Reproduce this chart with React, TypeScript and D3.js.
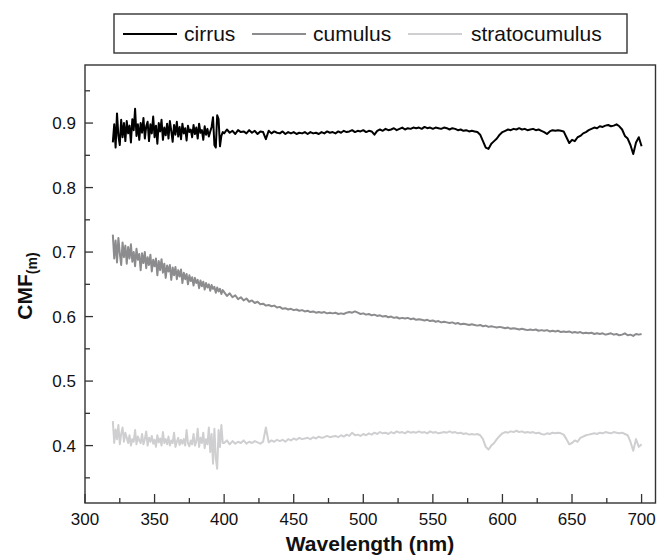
import React from "react";
import * as d3 from "d3";

// 1 nm sampling in the noisy UV part, 2 nm afterwards
const wavelengths: number[] = [...d3.range(320, 400, 1), ...d3.range(400, 701, 2)];

const cirrus: number[] = [
  // 320-399 (1 nm)
  0.870, 0.898, 0.862, 0.915, 0.880, 0.866, 0.905, 0.878, 0.900, 0.872,
  0.903, 0.884, 0.896, 0.870, 0.906, 0.889, 0.922, 0.880, 0.898, 0.874,
  0.900, 0.885, 0.908, 0.876, 0.895, 0.902, 0.872, 0.898, 0.884, 0.910,
  0.878, 0.896, 0.868, 0.900, 0.887, 0.905, 0.874, 0.893, 0.881, 0.899,
  0.876, 0.903, 0.888, 0.871, 0.897, 0.882, 0.902, 0.879, 0.894, 0.875,
  0.899, 0.884, 0.892, 0.873, 0.896, 0.886, 0.890, 0.878, 0.897, 0.883,
  0.893, 0.876, 0.899, 0.885, 0.889, 0.874, 0.895, 0.882, 0.891, 0.879,
  0.887, 0.894, 0.909, 0.866, 0.862, 0.912, 0.906, 0.864, 0.880, 0.886,
  // 400-700 (2 nm)
  0.884, 0.890, 0.885, 0.888, 0.883, 0.889, 0.886, 0.887, 0.884, 0.889,
  0.885, 0.888, 0.883, 0.887, 0.886, 0.875, 0.888, 0.884, 0.887, 0.885,
  0.884, 0.887, 0.883, 0.886, 0.884, 0.886, 0.883, 0.885, 0.884, 0.886,
  0.883, 0.886, 0.884, 0.885, 0.883, 0.886, 0.884, 0.887, 0.885, 0.886,
  0.884, 0.887, 0.885, 0.888, 0.886, 0.887, 0.889, 0.886, 0.888, 0.887,
  0.889, 0.886, 0.888, 0.887, 0.882, 0.888, 0.890, 0.888, 0.891, 0.889,
  0.890, 0.892, 0.889, 0.891, 0.893, 0.890, 0.892, 0.891, 0.893, 0.892,
  0.893, 0.891, 0.894, 0.892, 0.893, 0.891, 0.893, 0.892, 0.891, 0.893,
  0.892, 0.890, 0.892, 0.891, 0.889, 0.890, 0.888, 0.889, 0.887, 0.888,
  0.887, 0.886, 0.882, 0.872, 0.862, 0.860, 0.868, 0.872, 0.876, 0.882,
  0.886, 0.888, 0.890, 0.889, 0.891, 0.890, 0.892, 0.890, 0.891, 0.889,
  0.890, 0.891, 0.889, 0.890, 0.888, 0.886, 0.883, 0.887, 0.889, 0.888,
  0.889, 0.888, 0.887, 0.878, 0.869, 0.874, 0.872, 0.878, 0.880, 0.884,
  0.886, 0.889, 0.891, 0.893, 0.892, 0.895, 0.894, 0.896, 0.897, 0.895,
  0.896, 0.898, 0.895, 0.890, 0.880, 0.876, 0.866, 0.852, 0.870, 0.878,
  0.864,
];

const cumulus: number[] = [
  // 320-399 (1 nm)
  0.727, 0.690, 0.718, 0.684, 0.722, 0.698, 0.680, 0.715, 0.692, 0.710,
  0.682, 0.708, 0.690, 0.712, 0.685, 0.700, 0.678, 0.705, 0.688, 0.697,
  0.672, 0.698, 0.683, 0.700, 0.675, 0.692, 0.680, 0.696, 0.670, 0.688,
  0.678, 0.690, 0.664, 0.686, 0.672, 0.689, 0.668, 0.682, 0.660, 0.679,
  0.670, 0.680, 0.657, 0.676, 0.664, 0.677, 0.658, 0.672, 0.662, 0.673,
  0.652, 0.668, 0.658, 0.666, 0.650, 0.664, 0.655, 0.661, 0.648, 0.660,
  0.652, 0.657, 0.644, 0.656, 0.647, 0.654, 0.642, 0.652, 0.645, 0.650,
  0.640, 0.649, 0.643, 0.646, 0.637, 0.645, 0.639, 0.643, 0.635, 0.641,
  // 400-700 (2 nm)
  0.638, 0.632, 0.636, 0.630, 0.633, 0.627, 0.630, 0.625, 0.628, 0.623,
  0.625, 0.621, 0.623, 0.619, 0.620, 0.617, 0.618, 0.616, 0.617, 0.614,
  0.615, 0.612, 0.613, 0.611, 0.612, 0.610, 0.611, 0.609, 0.610, 0.608,
  0.609, 0.607, 0.608, 0.606, 0.607, 0.606, 0.607, 0.605, 0.606, 0.605,
  0.606, 0.604, 0.605, 0.604, 0.606, 0.607, 0.606, 0.608, 0.606, 0.604,
  0.605, 0.603, 0.604, 0.602, 0.603, 0.601, 0.602, 0.600, 0.601, 0.599,
  0.600, 0.598, 0.599, 0.597, 0.598, 0.597, 0.598, 0.596, 0.597, 0.595,
  0.596, 0.595, 0.594, 0.595, 0.593, 0.594, 0.592, 0.593, 0.591, 0.592,
  0.591, 0.590, 0.591, 0.589, 0.590, 0.588, 0.589, 0.588, 0.587, 0.588,
  0.587, 0.586, 0.587, 0.585, 0.586, 0.584, 0.585, 0.584, 0.583, 0.584,
  0.583, 0.582, 0.583, 0.581, 0.582, 0.581, 0.580, 0.581, 0.580, 0.579,
  0.580, 0.579, 0.580, 0.578, 0.579, 0.578, 0.579, 0.577, 0.578, 0.577,
  0.578, 0.576, 0.577, 0.576, 0.577, 0.575, 0.576, 0.575, 0.576, 0.574,
  0.575, 0.574, 0.575, 0.573, 0.574, 0.573, 0.574, 0.572, 0.573, 0.574,
  0.572, 0.573, 0.571, 0.572, 0.574, 0.571, 0.572, 0.570, 0.573, 0.572,
  0.573,
];

const stratocumulus: number[] = [
  // 320-399 (1 nm)
  0.438, 0.404, 0.425, 0.410, 0.432, 0.402, 0.418, 0.428, 0.406, 0.420,
  0.412, 0.404, 0.416, 0.400, 0.410, 0.406, 0.424, 0.402, 0.414, 0.408,
  0.404, 0.418, 0.402, 0.410, 0.422, 0.400, 0.412, 0.406, 0.415, 0.403,
  0.409, 0.398, 0.416, 0.405, 0.411, 0.400, 0.421, 0.404, 0.410, 0.402,
  0.414, 0.400, 0.408, 0.404, 0.420, 0.398, 0.406, 0.412, 0.401, 0.409,
  0.403, 0.410, 0.400, 0.424, 0.404, 0.399, 0.408, 0.402, 0.418, 0.400,
  0.406, 0.426, 0.398, 0.412, 0.404, 0.420, 0.396, 0.410, 0.402, 0.428,
  0.390, 0.418, 0.372, 0.426, 0.380, 0.364, 0.424, 0.398, 0.432, 0.404,
  // 400-700 (2 nm)
  0.404, 0.408, 0.402, 0.407, 0.403, 0.406, 0.404, 0.408, 0.403, 0.406,
  0.404, 0.407, 0.405, 0.403, 0.406, 0.428, 0.405, 0.408, 0.406, 0.409,
  0.407, 0.409, 0.406, 0.410, 0.408, 0.411, 0.409, 0.412, 0.410, 0.411,
  0.412, 0.410, 0.413, 0.411, 0.414, 0.412, 0.413, 0.415, 0.413, 0.414,
  0.415, 0.413, 0.416, 0.414, 0.417, 0.415, 0.420, 0.416, 0.417, 0.415,
  0.418, 0.416, 0.419, 0.417, 0.420, 0.418, 0.421, 0.419, 0.420, 0.418,
  0.421, 0.419, 0.422, 0.420, 0.421, 0.419, 0.422, 0.420, 0.421, 0.420,
  0.422, 0.420, 0.421, 0.419, 0.422, 0.420, 0.421, 0.419, 0.420, 0.421,
  0.420, 0.422, 0.420, 0.421, 0.419, 0.420, 0.418, 0.419, 0.417, 0.418,
  0.417, 0.418, 0.416, 0.410, 0.398, 0.394, 0.400, 0.404, 0.410, 0.415,
  0.419, 0.421, 0.420, 0.422, 0.421, 0.423, 0.421, 0.422, 0.420, 0.421,
  0.420, 0.421, 0.419, 0.420, 0.418, 0.417, 0.419, 0.418, 0.420, 0.419,
  0.420, 0.419, 0.417, 0.410, 0.402, 0.404, 0.408, 0.406, 0.412, 0.414,
  0.416, 0.417, 0.418, 0.419, 0.418, 0.420, 0.419, 0.421, 0.420, 0.419,
  0.421, 0.420, 0.419, 0.420, 0.418, 0.416, 0.406, 0.392, 0.410, 0.398,
  0.402,
];

const seriesNames = ["cirrus", "cumulus", "stratocumulus"];
const seriesColors = ["#000000", "#8c8c8f", "#cfcfd1"];
const xTicks = [300, 350, 400, 450, 500, 550, 600, 650, 700];
const xMinorTicks = [325, 375, 425, 475, 525, 575, 625, 675];
const yTicks = [0.4, 0.5, 0.6, 0.7, 0.8, 0.9];
const yMinorTicks = [0.35, 0.45, 0.55, 0.65, 0.75, 0.85, 0.95];

const W = 658;
const H = 559;
const left = 85;
const right = 655.5;
const top = 65;
const bottom = 503;
const font = "Liberation Sans, Arial, Helvetica, sans-serif";
const axisColor = "#333333";

export default function App() {
  const x = d3.scaleLinear().domain([300, 710]).range([left, right]);
  const y = d3.scaleLinear().domain([0.311, 0.99]).range([bottom, top]);
  const allSeries = [cirrus, cumulus, stratocumulus];
  const line = d3
    .line<number>()
    .x((_, i) => x(wavelengths[i]))
    .y((d) => y(d));

  const legendItems = [
    { lx: 123, tx: 184 },
    { lx: 252, tx: 313 },
    { lx: 408, tx: 471 },
  ];

  return (
    <svg
      width={W}
      height={H}
      style={{ position: "absolute", left: 0, top: 0, background: "#fff" }}
      fontFamily={font}
    >
      <rect x={0} y={0} width={W} height={H} fill="#fff" />
      {allSeries
        .map((s, k) => ({ s, k }))
        .reverse()
        .map(({ s, k }) => (
          <path
            key={seriesNames[k]}
            d={line(s) || ""}
            fill="none"
            stroke={seriesColors[k]}
            strokeWidth={2}
            strokeLinejoin="round"
          />
        ))}
      <rect
        x={left}
        y={top}
        width={right - left}
        height={bottom - top}
        fill="none"
        stroke={axisColor}
        strokeWidth={1.4}
      />
      {xTicks.map((t) => (
        <g key={"xt" + t}>
          <line x1={x(t)} x2={x(t)} y1={bottom} y2={bottom - 9} stroke={axisColor} strokeWidth={1.3} />
          <text x={x(t)} y={525} fontSize={17} textAnchor="middle" fill="#111">
            {t}
          </text>
        </g>
      ))}
      {xMinorTicks.map((t) => (
        <line key={"xm" + t} x1={x(t)} x2={x(t)} y1={bottom} y2={bottom - 5} stroke={axisColor} strokeWidth={1.3} />
      ))}
      {yTicks.map((t) => (
        <g key={"yt" + t}>
          <line x1={left} x2={left + 8} y1={y(t)} y2={y(t)} stroke={axisColor} strokeWidth={1.3} />
          <text x={76} y={y(t)} dy="0.36em" fontSize={17} textAnchor="end" fill="#111">
            {t.toFixed(1)}
          </text>
        </g>
      ))}
      {yMinorTicks.map((t) => (
        <line key={"ym" + t} x1={left} x2={left + 5} y1={y(t)} y2={y(t)} stroke={axisColor} strokeWidth={1.3} />
      ))}
      <text x={370} y={551} fontSize={21} fontWeight="bold" textAnchor="middle" fill="#111">
        Wavelength (nm)
      </text>
      <text
        transform={`translate(32, ${(top + bottom) / 2 + 2}) rotate(-90)`}
        fontSize={21}
        fontWeight="bold"
        textAnchor="middle"
        fill="#111"
      >
        CMF
        <tspan fontSize={14} dy={5}>
          (m)
        </tspan>
      </text>
      <rect x={114} y={14} width={513} height={39} fill="#fff" stroke={axisColor} strokeWidth={1.4} />
      {seriesNames.map((n, k) => (
        <g key={"lg" + n}>
          <line
            x1={legendItems[k].lx}
            x2={legendItems[k].lx + 54}
            y1={34}
            y2={34}
            stroke={seriesColors[k]}
            strokeWidth={2}
          />
          <text x={legendItems[k].tx} y={41} fontSize={21} fill="#111">
            {n}
          </text>
        </g>
      ))}
    </svg>
  );
}
